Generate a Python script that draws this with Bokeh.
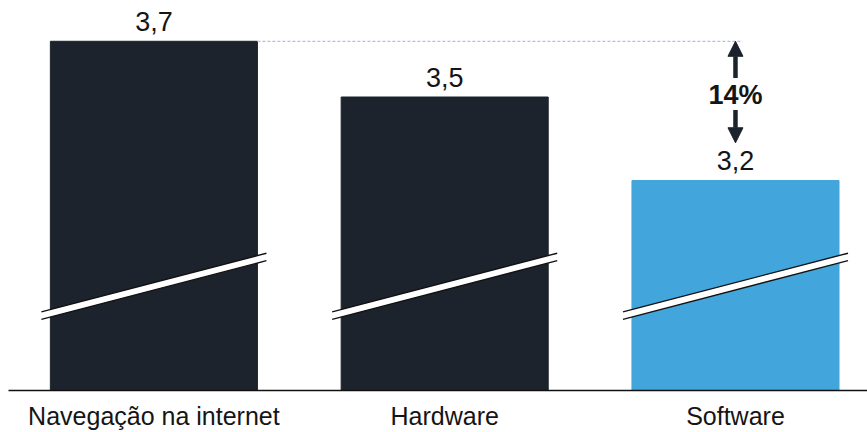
from bokeh.plotting import figure
from bokeh.models import Range1d, FixedTicker, Arrow, NormalHead, ColumnDataSource
from bokeh.core.properties import value
from bokeh.embed import file_html
from bokeh.resources import INLINE

# Average scores per category (broken value axis)
categories = ["Navegação na internet", "Hardware", "Software"]
scores = [3.7, 3.5, 3.2]
bar_colors = ["#1c232c", "#1c232c", "#42a5dc"]

W, H = 867, 432
BORDER_LEFT = 8
BORDER_BOTTOM = 40
FRAME_H = H - BORDER_BOTTOM

PX_PER_Y = 280.0
X_LO, X_HI = -0.5, 2.454
Y_HI = 3.7 + 41 / PX_PER_Y
Y_LO = Y_HI - FRAME_H / PX_PER_Y
PX_PER_X = (W - BORDER_LEFT) / (X_HI - X_LO)

BAR_W = 0.712
BREAK_HALF = BAR_W / 2 + 9 / PX_PER_X


def v_at(py):
    """Data value sitting at a given pixel row of the frame."""
    return Y_HI - py / PX_PER_Y


xs = list(range(len(categories)))
labels = [f"{s:.1f}".replace(".", ",") for s in scores]
label_y = [s + 20 / PX_PER_Y for s in scores]

src = ColumnDataSource(dict(x=xs, top=scores, color=bar_colors, label=labels, ly=label_y))

p = figure(width=W, height=H, output_backend="svg", toolbar_location=None,
           x_range=Range1d(X_LO, X_HI), y_range=Range1d(Y_LO, Y_HI),
           min_border_left=BORDER_LEFT, min_border_right=0,
           min_border_top=0, min_border_bottom=BORDER_BOTTOM)
p.outline_line_color = None
p.xgrid.visible = False
p.ygrid.visible = False
p.yaxis.visible = False
p.background_fill_color = "white"
p.border_fill_color = "white"

p.vbar(x="x", top="top", bottom=Y_LO, width=BAR_W, fill_color="color",
       line_color="color", source=src)

# Axis-break marks across each bar
top_l, top_r = v_at(313), v_at(254)
bot_l, bot_r = v_at(320.5), v_at(261.5)
p.patches(xs=[[x - BREAK_HALF, x + BREAK_HALF, x + BREAK_HALF, x - BREAK_HALF] for x in xs],
          ys=[[top_l, top_r, bot_r, bot_l] for _ in xs],
          fill_color="white", line_color=None)
p.segment(x0=[x - BREAK_HALF for x in xs], y0=[top_l] * len(xs),
          x1=[x + BREAK_HALF for x in xs], y1=[top_r] * len(xs),
          line_color="#111111", line_width=1.4)
p.segment(x0=[x - BREAK_HALF for x in xs], y0=[bot_l] * len(xs),
          x1=[x + BREAK_HALF for x in xs], y1=[bot_r] * len(xs),
          line_color="#111111", line_width=1.4)

# Value labels
p.text(x="x", y="ly", text="label", source=src,
       text_align="center", text_baseline="middle",
       text_font=value("Liberation Sans"), text_font_size="27px",
       text_color="#151515")

# Reference line from the highest bar to the gap marker
hi = max(scores)
lo = scores[-1]
gap_x = xs[-1]
p.segment(x0=[xs[0] + BAR_W / 2], y0=[hi], x1=[gap_x + 7 / PX_PER_X], y1=[hi],
          line_color="#b4bce8", line_width=1.2, line_dash="3 2")

arrow_color = "#1c232c"
p.add_layout(Arrow(end=NormalHead(size=15, fill_color=arrow_color, line_color=arrow_color),
                   x_start=gap_x, y_start=v_at(78), x_end=gap_x, y_end=hi,
                   line_color=arrow_color, line_width=4.5))
p.add_layout(Arrow(end=NormalHead(size=15, fill_color=arrow_color, line_color=arrow_color),
                   x_start=gap_x, y_start=v_at(110), x_end=gap_x, y_end=v_at(143),
                   line_color=arrow_color, line_width=4.5))

gap_pct = round((hi - lo) / hi * 100)
p.text(x=[gap_x], y=[v_at(94.5)], text=[f"{gap_pct}%"],
       text_align="center", text_baseline="middle",
       text_font=value("Liberation Sans"), text_font_style="bold",
       text_font_size="27px", text_color="#151515")

# Category axis
ax = p.xaxis[0]
ax.ticker = FixedTicker(ticks=xs)
ax.major_label_overrides = {i: c for i, c in enumerate(categories)}
ax.major_tick_line_color = None
ax.minor_tick_line_color = None
ax.major_tick_out = 0
ax.major_tick_in = 0
ax.minor_tick_out = 0
ax.minor_tick_in = 0
ax.axis_line_color = "#111111"
ax.axis_line_width = 1.5
ax.major_label_standoff = 11
ax.major_label_text_font = "Liberation Sans"
ax.major_label_text_font_size = "25px"
ax.major_label_text_color = "#151515"

open("out.html", "w").write(file_html(p, INLINE))
